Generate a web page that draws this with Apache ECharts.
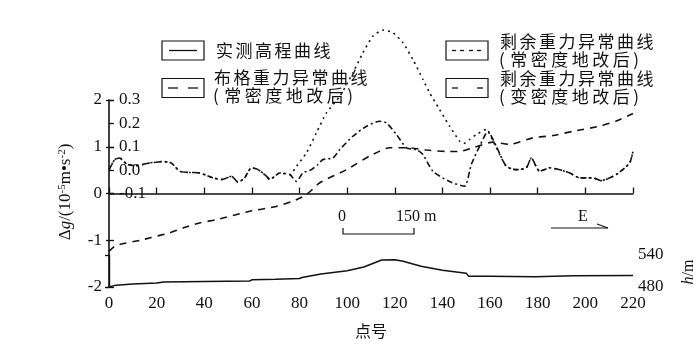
<!DOCTYPE html>
<html><head><meta charset="utf-8">
<script src="https://cdn.jsdelivr.net/npm/echarts@6/dist/echarts.min.js"></script>
<style>html,body{margin:0;padding:0;background:#fff}#c{width:700px;height:362px}</style>
</head><body><div id="c"></div>
<script>
// ---- data ----
const xTicks = [0,20,40,60,80,100,120,140,160,180,200,220];
const gTicks = [-2,-1,0,1,2];
const rTicks = [-0.1,0.0,0.1,0.2,0.3];
const hTicks = [480,540];

const elevX = [0,3,10,20,23,40,59,60,70,80,81,89,100,107,114.5,120,123.5,131,140,150,151,160,179,195,220];
const elevH = [480,483.5,485.5,487.5,489.5,490.5,491.3,493.5,494.5,496,497.8,504.5,510.5,517.5,530.5,531,528.3,519,511.5,506,500,500,499,501,501.5];

const bouguerX = [0,3,14,17,25.5,31,38,45,59,69,77,83,88.5,99.7,109.4,117.8,124.9,133.2,141.6,147.2,152.8,161.2,168.2,177.9,186.4,194.8,206,213,220];
const bouguerG = [-1.24,-1.11,-0.99,-0.95,-0.84,-0.74,-0.63,-0.56,-0.38,-0.29,-0.17,-0.02,0.23,0.51,0.80,0.98,0.98,0.93,0.90,0.90,0.98,1.10,1.05,1.19,1.24,1.33,1.44,1.55,1.71];

// residual anomaly, constant-density terrain correction (dotted)
const resConstX = [0,2.4,4.5,6.2,7.8,11.2,14.1,17.1,20,22.5,26.2,29.7,33.9,38.1,43.5,47.7,51.4,54.2,57,59.8,62.6,66.1,67.5,71.7,75.9,
  78.7,82.9,87.1,91.3,96.9,102.4,106.6,110.8,115,119.2,123.4,127.6,131.8,134.6,138.8,143,147.2,148.9,151.4,154.2,158.4,160.5,162.6,
  166.8,171,175.2,177.3,180.8,185,189.2,193.4,197.6,203.2,206.7,213,218.6,220];
const resConstR = [0.000,0.045,0.052,0.037,0.024,0.019,0.024,0.031,0.034,0.037,0.030,-0.005,-0.010,-0.012,-0.033,-0.040,-0.026,-0.052,-0.032,0.010,0.002,-0.026,-0.040,-0.012,-0.019,
  0.016,0.074,0.160,0.245,0.316,0.416,0.502,0.573,0.599,0.588,0.545,0.473,0.388,0.331,0.259,0.188,0.124,0.114,0.131,0.152,0.174,0.139,0.097,
  0.016,0.002,0.010,0.052,-0.005,0.010,0.002,-0.012,-0.033,-0.033,-0.045,-0.019,0.031,0.081];

// residual anomaly, variable-density terrain correction (dash-dot)
const resVarX = [0,2.4,4.5,6.2,7.8,11.2,14.1,17.1,20,22.5,26.2,29.7,33.9,38.1,43.5,47.7,51.4,54.2,57,59.8,62.6,66.1,67.5,71.7,75.9,
  78.7,81.4,85,87.7,89.8,94,96.9,102.4,108.1,113.6,116.5,120.7,124.9,129.1,131.8,136,143,149.3,152.1,155.6,159.1,162.6,
  166.8,171,175.2,177.3,180.8,185,189.2,193.4,197.6,203.2,206.7,213,218.6,220];
const resVarR = [0.000,0.045,0.052,0.037,0.024,0.019,0.024,0.031,0.034,0.037,0.030,-0.005,-0.010,-0.012,-0.033,-0.040,-0.026,-0.052,-0.032,0.010,0.002,-0.026,-0.040,-0.012,-0.019,
  -0.048,-0.012,0.002,0.024,0.045,0.052,0.088,0.145,0.188,0.209,0.202,0.152,0.095,0.088,0.067,-0.005,-0.049,-0.069,0.024,0.102,0.166,0.102,
  0.016,0.002,0.010,0.052,-0.005,0.010,0.002,-0.012,-0.033,-0.033,-0.045,-0.019,0.031,0.081];

const legendNames = ['实测高程曲线','布格重力异常曲线','(常密度地改后)','剩余重力异常曲线','(常密度地改后)','剩余重力异常曲线','(变密度地改后)'];
const xName = '点号';

// ---- chart ----
const pair = (xs, ys) => xs.map((x, i) => [x, ys[i]]);
const SERIF = '"Liberation Serif", "DejaVu Serif", serif';
const CJK = '"Noto Sans CJK SC", sans-serif';
const black = '#111';

const chart = echarts.init(document.getElementById('c'), null, {renderer: 'canvas'});

function legendBox(x, y, dashes) {
  const h = 19;
  const els = [{type: 'rect', shape: {x: x, y: y, width: 42, height: h}, style: {fill: 'none', stroke: black, lineWidth: 1.2}}];
  dashes.forEach(d => els.push({type: 'line', shape: {x1: x + d[0], y1: y + h / 2, x2: x + d[1], y2: y + h / 2}, style: {stroke: black, lineWidth: 1.3}}));
  return els;
}
function txt(t, x, y, font, align, extra) {
  return Object.assign({type: 'text', x: x, y: y, style: {text: t, font: font, fill: black, textAlign: align || 'left', textVerticalAlign: 'middle', verticalAlign: 'middle'}}, extra || {});
}
// letter-spaced text: each glyph placed at a fixed pitch
function spaced(t, x, y, pitch) {
  const out = [];
  let cx = x;
  for (const ch of t) {
    out.push(txt(ch, cx, y, '17px ' + CJK));
    cx += (ch === '(' || ch === ')') ? pitch * 0.55 : pitch;
  }
  return out;
}

const graphics = [].concat(
  legendBox(162, 41, [[7, 35]]),
  legendBox(162, 78.5, [[6, 16], [26, 36]]),
  legendBox(446, 41, [[6, 10], [14, 18], [23, 27], [31, 35]]),
  legendBox(446, 78.5, [[6, 12], [31, 37]]),
  spaced(legendNames[0], 216, 51, 19.5),
  spaced(legendNames[1], 214, 78, 19.5),
  spaced(legendNames[2], 213, 96, 20.5),
  spaced(legendNames[3], 500, 42, 19.5),
  spaced(legendNames[4], 499, 60, 20.5),
  spaced(legendNames[5], 500, 79, 19.5),
  spaced(legendNames[6], 499, 97, 20.5),
  [
    // scale bar
    txt('0', 342, 217, '16px ' + SERIF, 'center'),
    txt('150 m', 396, 217, '16px ' + SERIF, 'left'),
    {type: 'polyline', shape: {points: [[343, 228], [343, 234], [414, 234], [414, 228]]}, style: {fill: 'none', stroke: black, lineWidth: 1.2}},
    // east arrow
    txt('E', 583, 217, '16px ' + SERIF, 'center'),
    {type: 'line', shape: {x1: 551, y1: 228, x2: 608, y2: 228}, style: {stroke: black, lineWidth: 1.2}},
    {type: 'line', shape: {x1: 597, y1: 224, x2: 608, y2: 228}, style: {stroke: black, lineWidth: 1.2}},
    // y-axis title
    {type: 'text', x: 66, y: 192, rotation: Math.PI / 2,
      style: {text: '{a|Δ}{i|g}{a|/(10}{s|-5}{a|m•s}{s|-2}{a|)}', fill: black, textAlign: 'center', textVerticalAlign: 'middle', verticalAlign: 'middle',
        rich: {a: {font: '17px ' + SERIF, fill: black}, i: {font: 'italic 17px ' + SERIF, fill: black}, s: {font: '11px ' + SERIF, fill: black, verticalAlign: 'top', padding: [0, 0, 8, 0]}}}},
    // right axis title
    {type: 'text', x: 689, y: 272, rotation: Math.PI / 2,
      style: {text: '{i|h}{a|/m}', fill: black, textAlign: 'center', textVerticalAlign: 'middle', verticalAlign: 'middle',
        rich: {a: {font: '16px ' + SERIF, fill: black}, i: {font: 'italic 16px ' + SERIF, fill: black}}}}
  ]
);

const option = {
  animation: false,
  backgroundColor: '#fff',
  grid: [
    {left: 109, right: 67, top: 100, bottom: 75, containLabel: false},
    {left: 109, right: 67, top: 255, bottom: 75, containLabel: false}
  ],
  xAxis: [
    {type: 'value', gridIndex: 0, min: xTicks[0], max: xTicks[xTicks.length - 1], interval: 20,
      name: xName, nameLocation: 'middle', nameGap: 36, nameTextStyle: {fontFamily: CJK, fontSize: 16, color: black},
      axisLine: {lineStyle: {color: black, width: 1.6}},
      axisTick: {inside: true, length: 6, lineStyle: {color: black, width: 1.3}},
      axisLabel: {fontFamily: SERIF, fontSize: 17, color: black, margin: 8},
      splitLine: {show: false}},
    {type: 'value', gridIndex: 1, min: 0, max: 220, show: false}
  ],
  yAxis: [
    {type: 'value', gridIndex: 0, position: 'left', min: gTicks[0], max: gTicks[gTicks.length - 1], interval: 1,
      axisLine: {show: true, lineStyle: {color: black, width: 1.6}},
      axisTick: {show: true, inside: false, length: 3, lineStyle: {color: black, width: 1.3}},
      axisLabel: {fontFamily: SERIF, fontSize: 17, color: black, margin: 7},
      splitLine: {show: false}},
    {type: 'value', gridIndex: 0, position: 'left', min: -0.5, max: 0.3, interval: 0.1,
      axisLine: {show: false},
      axisTick: {show: true, inside: true, length: 5, customValues: rTicks, lineStyle: {color: black, width: 1.3}},
      axisLabel: {inside: true, fontFamily: SERIF, fontSize: 17, color: black, margin: 10, customValues: rTicks,
        formatter: v => (v < -0.15 ? '' : v.toFixed(1))},
      splitLine: {show: false}},
    {type: 'value', gridIndex: 0, position: 'left', min: gTicks[0], max: gTicks[gTicks.length - 1], interval: 1,
      axisLine: {show: false},
      axisTick: {show: true, inside: true, length: 5, lineStyle: {color: black, width: 1.3}},
      axisLabel: {show: false}, splitLine: {show: false}},
    {type: 'value', gridIndex: 1, position: 'right', min: hTicks[0], max: hTicks[1], interval: 60,
      axisLine: {show: true, lineStyle: {color: black, width: 1.4}},
      axisTick: {show: true, inside: true, length: 4, lineStyle: {color: black, width: 1.3}},
      axisLabel: {fontFamily: SERIF, fontSize: 17, color: black, margin: 5},
      splitLine: {show: false}}
  ],
  series: [
    {name: '实测高程曲线', type: 'line', xAxisIndex: 1, yAxisIndex: 3, data: pair(elevX, elevH), showSymbol: false, symbol: 'none',
      lineStyle: {color: black, width: 1.5}, clip: false},
    {name: '布格重力异常曲线', type: 'line', xAxisIndex: 0, yAxisIndex: 0, data: pair(bouguerX, bouguerG), showSymbol: false, symbol: 'none', smooth: 0.2,
      lineStyle: {color: black, width: 1.6, type: [7, 6]}, clip: false},
    {name: '剩余重力异常曲线(常密度)', type: 'line', xAxisIndex: 0, yAxisIndex: 1, data: pair(resConstX, resConstR), showSymbol: false, symbol: 'none', smooth: 0.2,
      lineStyle: {color: black, width: 1.6, type: [2, 4]}, clip: false},
    {name: '剩余重力异常曲线(变密度)', type: 'line', xAxisIndex: 0, yAxisIndex: 1, data: pair(resVarX, resVarR), showSymbol: false, symbol: 'none', smooth: 0.2,
      lineStyle: {color: black, width: 1.6, type: [6, 3, 2, 3]}, clip: false}
  ],
  graphic: graphics
};
chart.setOption(option);
</script>
</body></html>
